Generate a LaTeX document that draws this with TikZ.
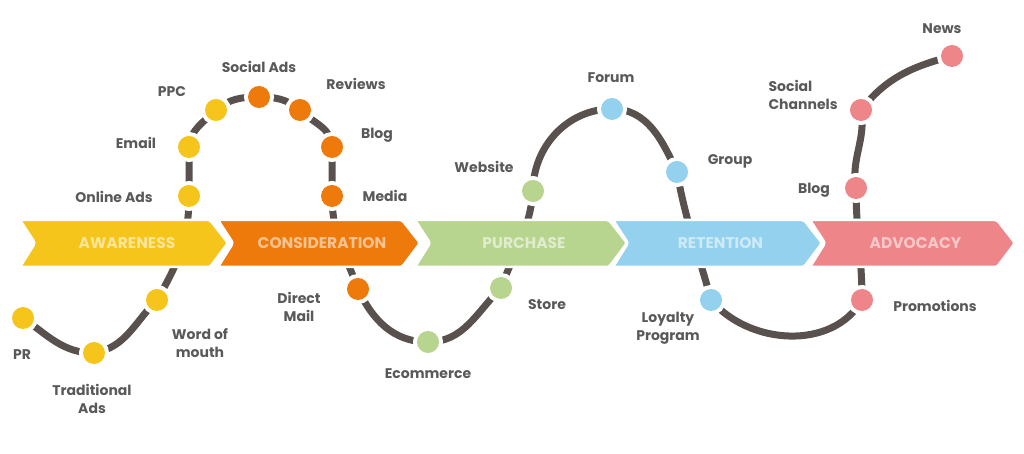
\documentclass[tikz,border=0pt]{standalone}
\usepackage{fontspec}
\setmainfont{Poppins}
\usetikzlibrary{positioning}

\definecolor{aware}{HTML}{F6C51C}
\definecolor{consid}{HTML}{EE7A0C}
\definecolor{purch}{HTML}{B7D58F}
\definecolor{reten}{HTML}{93D1EF}
\definecolor{advoc}{HTML}{EE8588}
\definecolor{trackgray}{HTML}{58514D}
\definecolor{labelgray}{HTML}{595959}

\tikzset{
  track/.style={draw=trackgray, line width=7pt, line cap=round},
  dot/.style={circle, fill=#1, minimum size=22pt, inner sep=0pt,
    preaction={draw=white, line width=8pt}},
  lbl/.style={text=labelgray, font=\bfseries\fontsize{14}{18}\selectfont, align=center},
  stagetext/.style={font=\bfseries\fontsize{15.5}{18}\selectfont},
  stagebox/.style={fill=#1, draw=white, line width=2.5pt, rounded corners=2.5pt}
}

% chevron: left x, right x, colour, name, text
\newcommand\stagearrow[5]{%
  \path[stagebox=#3] (#1,234) -- (#2-18,234) -- (#2,211) -- (#2-18,187)
    -- (#1,187) -- (#1+15,211) -- cycle;
  \node[stagetext, text=#3!45!white] (#4) at ({(#1+#2)/2+3},211) {#5};}

\begin{document}
\begin{tikzpicture}[x=1pt,y=1pt]
\useasboundingbox (0,0) rectangle (1024,454);

% stops along the journey
\coordinate (pr) at (23,136);
\coordinate (trad) at (94,101);
\coordinate (word) at (157,154);
\coordinate (online) at (189,258);
\coordinate (email) at (189,307);
\coordinate (ppc) at (216,344);
\coordinate (socialads) at (259,357);
\coordinate (reviews) at (300,344);
\coordinate (blogo) at (332,307);
\coordinate (media) at (332,258);
\coordinate (direct) at (358,165);
\coordinate (ecom) at (428,112);
\coordinate (store) at (501,166);
\coordinate (website) at (533,263);
\coordinate (forum) at (612,345);
\coordinate (group) at (677,282);
\coordinate (loyalty) at (711,154);
\coordinate (promo) at (862,154);
\coordinate (blogr) at (856,266);
\coordinate (socialch) at (861,344);
\coordinate (news) at (952,398);

\draw[track] (pr) to[out=-35,in=180] (trad) to[out=10,in=-135] (word)
  to[out=60,in=-90] (online) -- (email) to[out=85,in=-135] (ppc)
  to[out=40,in=180] (socialads) to[out=0,in=140] (reviews)
  to[out=-45,in=90] (blogo) -- (media) to[out=-90,in=110] (direct)
  to[out=-65,in=180] (ecom) to[out=0,in=-135] (store)
  to[out=70,in=-95] (website) to[out=90,in=180] (forum)
  to[out=0,in=115] (group) to[out=-80,in=105] (loyalty)
  to[out=-50,in=-120] (promo) to[out=90,in=-90] (blogr)
  to[out=100,in=-80] (socialch) to[out=52,in=195] (news);

\stagearrow{20}{228}{aware}{awareness}{AWARENESS}
\stagearrow{218}{420}{consid}{consideration}{CONSIDERATION}
\stagearrow{415}{627}{purch}{purchase}{PURCHASE}
\stagearrow{613}{822}{reten}{retention}{RETENTION}
\stagearrow{810}{1015}{advoc}{advocacy}{ADVOCACY}

\foreach \p in {pr,trad,word,online,email,ppc}
  \node[dot=aware] at (\p) {};
\foreach \p in {socialads,reviews,blogo,media,direct}
  \node[dot=consid] at (\p) {};
\foreach \p in {ecom,store,website}
  \node[dot=purch] at (\p) {};
\foreach \p in {forum,group,loyalty}
  \node[dot=reten] at (\p) {};
\foreach \p in {promo,blogr,socialch,news}
  \node[dot=advoc] at (\p) {};

\node[lbl] (prl) at (22,99) {PR};
\node[lbl] (tradl) at (92,55) {Traditional\\Ads};
\node[lbl] (wordl) at (200,111) {Word of\\mouth};
\node[lbl] (onlinel) at (114,257) {Online Ads};
\node[lbl] (emaill) at (136,311) {Email};
\node[lbl] (ppcl) at (172,362) {PPC};
\node[lbl] (socialadsl) at (259,387) {Social Ads};
\node[lbl] (reviewsl) at (356,370) {Reviews};
\node[lbl] (blogol) at (377,319) {Blog};
\node[lbl] (medial) at (385,258) {Media};
\node[lbl] (directl) at (299,147) {Direct\\Mail};
\node[lbl] (ecoml) at (428,80) {Ecommerce};
\node[lbl] (storel) at (547,149) {Store};
\node[lbl] (websitel) at (484,287) {Website};
\node[lbl] (foruml) at (611,376) {Forum};
\node[lbl] (groupl) at (730,293) {Group};
\node[lbl] (loyaltyl) at (668,126) {Loyalty\\Program};
\node[lbl] (promol) at (935,148) {Promotions};
\node[lbl] (blogrl) at (814,264) {Blog};
\node[lbl, align=left, anchor=west] (socialchl) at (765,359) {Social\\Channels};
\node[lbl] (newsl) at (942,425) {News};
\end{tikzpicture}
\end{document}
